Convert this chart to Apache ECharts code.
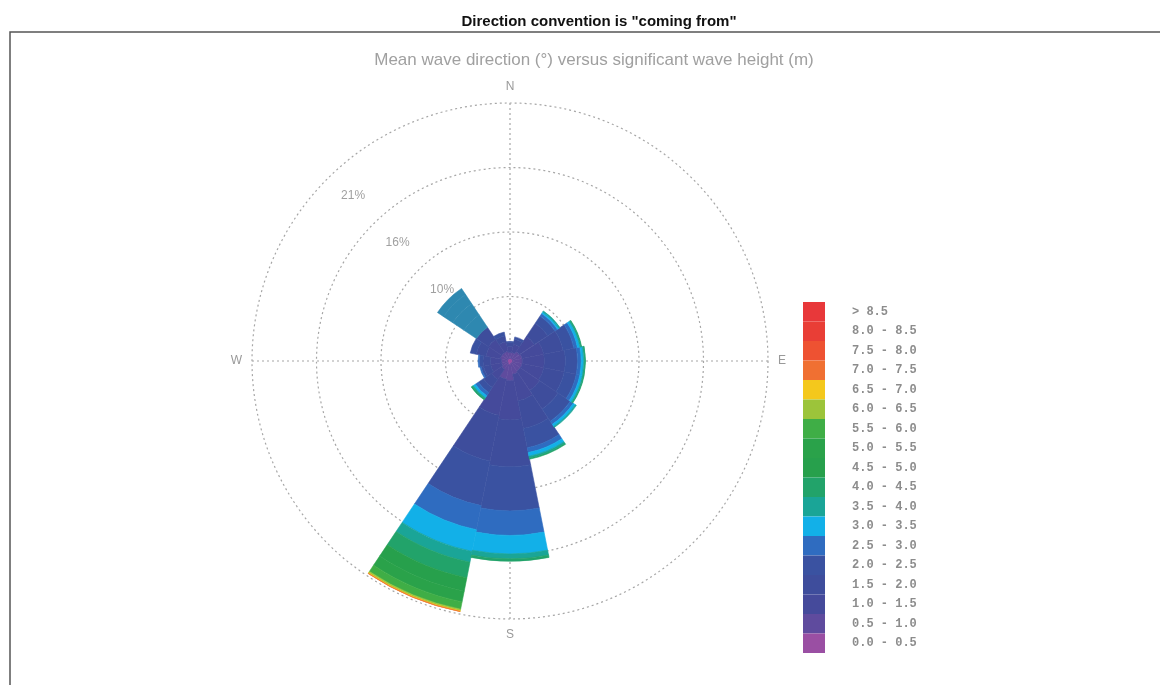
<!DOCTYPE html>
<html>
<head>
<meta charset="utf-8">
<title>Wave rose</title>
<script src="https://cdn.jsdelivr.net/npm/echarts@6/dist/echarts.min.js"></script>
<style>
  html, body { margin: 0; padding: 0; background: #fff; }
  #chart { width: 1160px; height: 685px; }
</style>
</head>
<body>
<div id="chart"></div>
<script>
// 16 direction sectors, "coming from", clockwise from north
const directions = ['N', 'NNE', 'NE', 'ENE', 'E', 'ESE', 'SE', 'SSE', 'S', 'SSW', 'SW', 'WSW', 'W', 'WNW', 'NW', 'NNW']

// significant wave height classes (m)
const heightClasses = ['0.0 - 0.5', '0.5 - 1.0', '1.0 - 1.5', '1.5 - 2.0', '2.0 - 2.5', '2.5 - 3.0',
  '3.0 - 3.5', '3.5 - 4.0', '4.0 - 4.5', '4.5 - 5.0', '5.0 - 5.5', '5.5 - 6.0',
  '6.0 - 6.5', '6.5 - 7.0', '7.0 - 7.5', '7.5 - 8.0', '8.0 - 8.5', '> 8.5']

// frequency (%) per direction for each height class
const h00_05 = [0.2, 0.2, 0.2, 0.2, 0.2, 0.2, 0.2, 0.2, 0.3, 0.3, 0.2, 0.2, 0.2, 0.2, 0.2, 0.2]
const h05_10 = [0.5, 0.5, 0.7, 0.8, 0.8, 0.8, 0.8, 0.9, 1.3, 1.2, 0.6, 0.5, 0.5, 0.6, 0.6, 0.6]
const h10_15 = [0.5, 0.7, 1.5, 1.8, 1.8, 1.8, 1.9, 2.2, 3.2, 3.0, 1.0, 0.9, 0.9, 1.2, 1.3, 0.8]
const h15_20 = [0.3, 0.4, 1.3, 1.6, 1.7, 1.7, 1.8, 2.3, 3.8, 3.8, 0.8, 0.6, 0.6, 0.8, 1.2, 0.5]
const h20_25 = [0.1, 0.2, 0.7, 0.9, 1.0, 1.0, 1.2, 1.6, 3.6, 3.7, 0.5, 0.2, 0.3, 0.5, 1.2, 0.3]
const h25_30 = [0, 0, 0.25, 0.3, 0.3, 0.3, 0.3, 0.4, 2.0, 2.0, 0.3, 0.1, 0.1, 0, 1.1, 0]
const h30_35 = [0, 0, 0.15, 0.2, 0.2, 0.2, 0.2, 0.3, 1.5, 1.8, 0.2, 0, 0, 0, 0.9, 0]
const h35_40 = [0, 0, 0.1, 0.1, 0.1, 0.1, 0.1, 0.15, 0.4, 0.9, 0.1, 0, 0, 0, 0.6, 0]
const h40_45 = [0, 0, 0, 0.05, 0.05, 0.05, 0, 0.1, 0.2, 1.3, 0.1, 0, 0, 0, 0, 0]
const h45_50 = [0, 0, 0, 0, 0, 0, 0, 0, 0, 1.1, 0, 0, 0, 0, 0, 0]
const h50_55 = [0, 0, 0, 0, 0, 0, 0, 0, 0, 0.9, 0, 0, 0, 0, 0, 0]
const h55_60 = [0, 0, 0, 0, 0, 0, 0, 0, 0, 0.6, 0, 0, 0, 0, 0, 0]
const h60_65 = [0, 0, 0, 0, 0, 0, 0, 0, 0, 0.12, 0, 0, 0, 0, 0, 0]
const h65_70 = [0, 0, 0, 0, 0, 0, 0, 0, 0, 0.06, 0, 0, 0, 0, 0, 0]
const h70_75 = [0, 0, 0, 0, 0, 0, 0, 0, 0, 0.02, 0, 0, 0, 0, 0, 0]
const h75_80 = [0, 0, 0, 0, 0, 0, 0, 0, 0, 0, 0, 0, 0, 0, 0, 0]
const h80_85 = [0, 0, 0, 0, 0, 0, 0, 0, 0, 0, 0, 0, 0, 0, 0, 0]
const h85_up = [0, 0, 0, 0, 0, 0, 0, 0, 0, 0, 0, 0, 0, 0, 0, 0]

const classValues = [h00_05, h05_10, h10_15, h15_20, h20_25, h25_30, h30_35, h35_40, h40_45,
  h45_50, h50_55, h55_60, h60_65, h65_70, h70_75, h75_80, h80_85, h85_up]

// ring labels along the NW spoke
const ringLabels = ['', '10%', '16%', '21%']
const compassLabels = { 0: 'N', 90: 'E', 180: 'S', 270: 'W' }

const classColors = ['#9a4fa3', '#5f4b9e', '#454a9b', '#3e4d9c', '#3a52a1', '#2f6cc0',
  '#12b0e8', '#1aa597', '#22a36a', '#27a04c', '#2aa24a', '#3fae46',
  '#9cc43a', '#f4c81c', '#f07032', '#ee5232', '#e93e36', '#e8383a']

// the NW sector is printed in a single teal tone above 2 m
const tealDir = directions.indexOf('NW')
const tealFrom = 4
const tealColor = '#2e88b0'

const center = [510, 361]
const gridLine = { color: '#a6a6a6', type: [2, 3], width: 1.2 }

const chart = echarts.init(document.getElementById('chart'))

// border in the fill colour hides the anti-aliasing seams between sectors
const fillStyle = (c) => ({ color: c, borderColor: c, borderWidth: 0.6 })

const series = classValues.map((vals, ci) => ({
  name: heightClasses[ci],
  type: 'bar',
  coordinateSystem: 'polar',
  polarIndex: 0,
  stack: 'freq',
  barCategoryGap: '0%',
  itemStyle: fillStyle(classColors[ci]),
  data: vals.map((v, di) => {
    if (!v) return '-'   // empty class: draw nothing, not a zero-width outline
    return (di === tealDir && ci >= tealFrom) ? { value: v, itemStyle: fillStyle(tealColor) } : v
  })
}))

chart.setOption({
  animation: false,
  title: [
    {
      text: 'Direction convention is "coming from"',
      left: 594,
      top: 9,
      textAlign: 'center',
      textStyle: { fontFamily: 'Liberation Sans', fontSize: 15, fontWeight: 'bold', color: '#111' }
    },
    {
      text: 'Mean wave direction (°) versus significant wave height (m)',
      left: 589,
      top: 47,
      textAlign: 'center',
      textStyle: { fontFamily: 'Liberation Sans', fontSize: 17, fontWeight: 'normal', color: '#a0a0a0' }
    }
  ],
  graphic: [
    {
      type: 'rect',
      shape: { x: 10, y: 32, width: 1200, height: 700 },
      style: { fill: 'none', stroke: '#555', lineWidth: 1.5 },
      silent: true
    }
  ],
  legend: {
    orient: 'vertical',
    left: 803,
    top: 302,
    padding: 0,
    itemWidth: 22,
    itemHeight: 19.5,
    itemGap: 0,
    icon: 'rect',
    selectedMode: false,
    itemStyle: { borderWidth: 0 },
    data: heightClasses.slice().reverse(),
    textStyle: {
      fontFamily: 'Liberation Mono',
      fontSize: 12,
      fontWeight: 'bold',
      color: '#8c8c8c',
      padding: [0, 0, 0, 22]
    }
  },
  polar: [
    { center: center, radius: 258 },
    { center: center, radius: 258 },
    { center: center, radius: [34, 228] }
  ],
  angleAxis: [
    {
      polarIndex: 0,
      type: 'category',
      data: directions,
      startAngle: 101.25,
      clockwise: true,
      axisLine: { show: false },
      axisTick: { show: false },
      axisLabel: { show: false },
      splitLine: { show: false }
    },
    {
      polarIndex: 1,
      type: 'value',
      min: 0,
      max: 360,
      interval: 90,
      startAngle: 90,
      clockwise: true,
      axisLine: { show: false },
      axisTick: { show: false },
      axisLabel: {
        margin: 10,
        color: '#999',
        fontFamily: 'Liberation Sans',
        fontSize: 12,
        formatter: (v) => compassLabels[v] || ''
      },
      splitLine: { show: true, lineStyle: gridLine }
    },
    {
      polarIndex: 2,
      type: 'value',
      min: 0,
      max: 360,
      startAngle: 133.5,
      axisLine: { show: false },
      axisTick: { show: false },
      axisLabel: { show: false },
      splitLine: { show: false }
    }
  ],
  radiusAxis: [
    {
      polarIndex: 0,
      type: 'value',
      min: 0,
      max: 21,
      axisLine: { show: false },
      axisTick: { show: false },
      axisLabel: { show: false },
      splitLine: { show: false }
    },
    {
      polarIndex: 1,
      type: 'value',
      min: 0,
      max: 4,
      interval: 1,
      axisLine: { show: false },
      axisTick: { show: false },
      axisLabel: { show: false },
      splitLine: { show: true, lineStyle: gridLine }
    },
    {
      polarIndex: 2,
      type: 'value',
      min: 0,
      max: 3,
      interval: 1,
      axisLine: { show: false },
      axisTick: { show: false },
      splitLine: { show: false },
      axisLabel: {
        margin: 0,
        align: 'center',
        verticalAlign: 'middle',
        color: '#a0a0a0',
        fontFamily: 'Liberation Sans',
        fontSize: 12,
        formatter: (v) => ringLabels[v] || ''
      }
    }
  ],
  series: series
})
</script>
</body>
</html>
